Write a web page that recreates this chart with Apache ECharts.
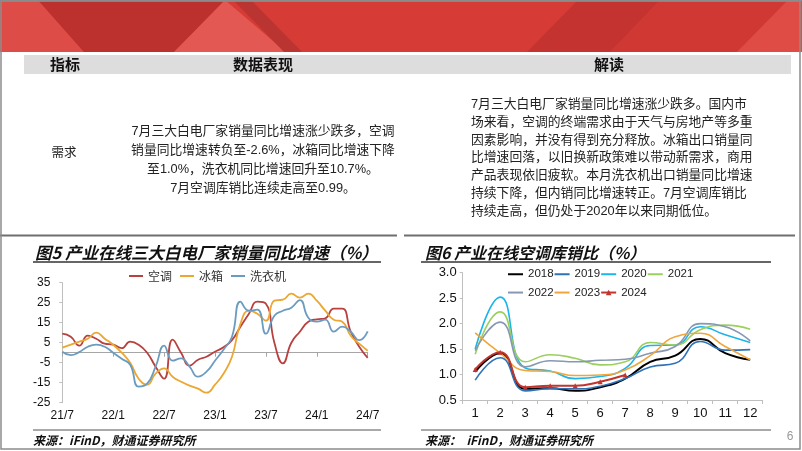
<!DOCTYPE html>
<html><head><meta charset="utf-8">
<script src="https://cdn.jsdelivr.net/npm/echarts@6/dist/echarts.min.js"></script>
<style>html,body{margin:0;padding:0;background:#fff}#c{width:802px;height:451px}</style>
</head><body><div id="c"></div>
<script>
// ---- Figure 5 data (YoY %, 21/7 .. 24/7) ----
const months = ['21/7','21/8','21/9','21/10','21/11','21/12','22/1','22/2','22/3','22/4','22/5','22/6','22/7','22/8','22/9','22/10','22/11','22/12','23/1','23/2','23/3','23/4','23/5','23/6','23/7','23/8','23/9','23/10','23/11','23/12','24/1','24/2','24/3','24/4','24/5','24/6','24/7'];
const acData     = [9.5, 8, 3.5, 8.5, 7, 4.5, 4, 2.3, 5.5, 4, 0, -7, -13, 6.5, 0, -6.5, -3.5, -2, 0.5, 2.7, 6.3, 13, 19.5, 25.5, 24.5, 5, -5.3, 5, 10.5, 15.5, 16.7, 17.2, 22, 22, 10.5, 3, -2.6];
const fridgeData = [2.5, 4, 5.5, 7, 10, 7, 4, 0, -5, -13, -16, -10.5, -7.8, -12, -14.5, -16.5, -18, -20, -16, -10.5, -2, 14.5, 21, 19.5, 16, 26, 26.5, 29.5, 27.5, 29.5, 26, 21, 16.5, 15.5, 8.5, 4.5, 1.0];
const washerData = [0.5, -1.2, 0.3, 3, 4, 3, 0, -3, -6, -17, -15.5, -7, 3.5, -4, -2.8, -7, -12, -9.5, -4, 1.5, 8, 25.5, 21, 21.5, 9.5, 18.5, 21, 22.5, 26.3, 17.5, 15.5, 16.5, 10.5, 13, 10.5, 6.3, 10.7];
const yTicks5 = [-25, -15, -5, 5, 15, 25, 35];

// ---- Figure 6 data (AC inventory/sales ratio, month 1..12) ----
const monthNo = ['1','2','3','4','5','6','7','8','9','10','11','12'];
const r2018 = [1.05, 1.42, 0.72, 0.73, 0.68, 0.75, 0.92, 1.25, 1.37, 1.70, 1.42, 1.29];
const r2019 = [0.89, 1.33, 0.68, 0.72, 0.72, 0.77, 0.92, 1.15, 1.22, 1.65, 1.48, 1.49];
const r2020 = [1.50, 2.52, 1.13, 1.07, 0.92, 0.96, 1.12, 1.57, 1.58, 1.94, 1.78, 1.63];
const r2021 = [1.40, 2.23, 1.25, 1.39, 1.32, 1.19, 1.25, 1.63, 1.58, 1.88, 1.97, 1.89];
const r2022 = [1.47, 2.03, 1.15, 1.27, 1.25, 1.28, 1.30, 1.42, 1.55, 2.00, 1.94, 1.66];
const r2023 = [1.82, 1.42, 1.08, 1.06, 0.98, 0.99, 1.09, 1.37, 1.74, 1.81, 1.55, 1.29];
const r2024 = [1.10, 1.44, 0.75, 0.78, 0.78, 0.86, 0.99];

const midLines = [
  '7月三大白电厂家销量同比增速涨少跌多，空调',
  '销量同比增速转负至-2.6%，冰箱同比增速下降',
  '至1.0%，洗衣机同比增速回升至10.7%。',
  '7月空调库销比连续走高至0.99。'
];
const rightLines = [
  '7月三大白电厂家销量同比增速涨少跌多。国内市',
  '场来看，空调的终端需求由于天气与房地产等多重',
  '因素影响，并没有得到充分释放。冰箱出口销量同',
  '比增速回落，以旧换新政策难以带动新需求，商用',
  '产品表现依旧疲软。本月洗衣机出口销量同比增速',
  '持续下降，但内销同比增速转正。7月空调库销比',
  '持续走高，但仍处于2020年以来同期低位。'
];

const FONT_TXT = '"Liberation Sans", "Noto Sans CJK SC", sans-serif';
const FONT_CJK = '"Noto Sans CJK SC", sans-serif';

function txt(x, y, s, font, align, fill) {
  return { type: 'text', silent: true, z: 10,
    style: { x: x, y: y, text: s, font: font, fill: fill || '#1a1a1a',
      textAlign: align || 'left', align: align || 'left',
      textVerticalAlign: 'middle', verticalAlign: 'middle' } };
}
function poly(pts, fill) {
  return { type: 'polygon', silent: true, z: 1, shape: { points: pts }, style: { fill: fill } };
}
function line(x1, y1, x2, y2, color, w) {
  return { type: 'line', silent: true, z: 5, shape: { x1, y1, x2, y2 }, style: { stroke: color, lineWidth: w } };
}

const graphics = [
  { type: 'rect', silent: true, z: 0, shape: { x: 0, y: 0, width: 802, height: 52 }, style: { fill: '#D63B36' } },
  poly([[0,0],[38,0],[84,52],[0,52]], '#DE4C47'),
  poly([[38,0],[225,0],[174,52],[84,52]], '#BC302D'),
  poly([[174,52],[225,0],[286,52]], '#E35852'),
  poly([[233,0],[251,0],[302,52],[284,52]], '#BA3431'),
  poly([[527,52],[578,0],[660,0],[610,52]], '#C4332F'),
  poly([[610,52],[660,0],[788,0],[737,52]], '#D03834'),
  poly([[737,52],[788,0],[802,0],[802,52]], '#DF4C46'),
  line(0, 0.8, 802, 0.8, '#8a8a8a', 1.6),
  // table header
  { type: 'rect', silent: true, z: 2, shape: { x: 24, y: 55, width: 767, height: 19 }, style: { fill: '#DDDDDD' } },
  txt(65, 64.5, '指标', 'bold 15px ' + FONT_CJK, 'center', '#111'),
  txt(263, 64.5, '数据表现', 'bold 15px ' + FONT_CJK, 'center', '#111'),
  txt(609, 64.5, '解读', 'bold 15px ' + FONT_CJK, 'center', '#111'),
  txt(64, 152, '需求', '12.5px ' + FONT_CJK, 'center', '#222'),
  // separators / chart frames
  line(0, 235.5, 397, 235.5, '#6f6f6f', 2.2),
  line(404, 235.5, 795, 235.5, '#6f6f6f', 2.2),
  line(33, 262, 381, 262, '#333', 1.4),
  line(421, 262, 771, 262, '#333', 1.4),
  line(33, 430, 381, 430, '#555', 1.2),
  line(421, 430, 771, 430, '#555', 1.2),
  txt(35, 252.5, '图5 产业在线三大白电厂家销量同比增速（%）', 'italic bold 16.5px ' + FONT_CJK, 'left', '#111'),
  txt(425, 252.5, '图6 产业在线空调库销比（%）', 'italic bold 16px ' + FONT_CJK, 'left', '#111'),
  txt(33, 440.5, '来源：iFinD，财通证券研究所', 'italic bold 12px ' + FONT_CJK, 'left', '#111'),
  txt(425, 440.5, '来源：  iFinD，财通证券研究所', 'italic bold 12px ' + FONT_CJK, 'left', '#111'),
  txt(790, 437, '6', '12px ' + FONT_TXT, 'center', '#999'),
  // page frame
  { type: 'rect', silent: true, z: 20, shape: { x: 1, y: 1, width: 799, height: 448 }, style: { fill: 'none', stroke: '#8c8c8c', lineWidth: 1.5 } }
];
midLines.forEach((s, i) => graphics.push(txt(263, 131 + i * 19, s, '12.8px ' + FONT_TXT, 'center', '#222')));
rightLines.forEach((s, i) => graphics.push(txt(471, 104.5 + i * 17.8, s, '12.8px ' + FONT_TXT, 'left', '#222')));

const axisGrey = '#BFBFBF';
function ser5(name, data, color) {
  return { name, type: 'line', xAxisIndex: 0, yAxisIndex: 0, data, smooth: 0.5, symbol: 'none',
    lineStyle: { color, width: 1.8 }, itemStyle: { color } };
}
function ser6(name, data, color, w, sym) {
  return { name, type: 'line', xAxisIndex: 2, yAxisIndex: 1, data, smooth: 0.5,
    symbol: sym || 'none', symbolSize: 5, showSymbol: !!sym,
    lineStyle: { color, width: w || 1.6 }, itemStyle: { color } };
}
const hideSym = { opacity: 0 };

const option = {
  animation: false,
  backgroundColor: '#fff',
  graphic: { elements: graphics },
  grid: [
    { left: 62.3, top: 282.7, width: 305.4, height: 120 },
    { left: 462.7, top: 272.7, width: 300, height: 127.3 }
  ],
  legend: [
    { data: ['空调', '冰箱', '洗衣机'], left: 128, top: 270, padding: 0, itemWidth: 14, itemHeight: 8, itemGap: 7,
      itemStyle: hideSym,
      textStyle: { fontSize: 12, fontFamily: FONT_CJK, color: '#333' } },
    { data: ['2018', '2019', '2020', '2021'], left: 507, top: 268.5, padding: 0, itemWidth: 15, itemHeight: 7, itemGap: 0,
      itemStyle: hideSym,
      textStyle: { fontSize: 11.5, fontFamily: FONT_TXT, color: '#222' } },
    { data: [{ name: '2022', itemStyle: hideSym }, { name: '2023', itemStyle: hideSym }, { name: '2024' }],
      left: 507, top: 286.8, padding: 0, itemWidth: 15, itemHeight: 7, itemGap: 0,
      textStyle: { fontSize: 11.5, fontFamily: FONT_TXT, color: '#222' } }
  ],
  xAxis: [
    { gridIndex: 0, type: 'category', data: months, boundaryGap: false,
      axisLine: { show: false, onZero: false }, axisTick: { show: false },
      axisLabel: { interval: 5, fontSize: 12, margin: 7, color: '#111', fontFamily: FONT_TXT } },
    { gridIndex: 0, type: 'category', data: months, boundaryGap: false, position: 'bottom',
      axisLine: { show: true, onZero: true, lineStyle: { color: '#A6A6A6', width: 1 } },
      axisTick: { show: true, interval: 5, length: 4, lineStyle: { color: '#A6A6A6' } },
      axisLabel: { show: false } },
    { gridIndex: 1, type: 'category', data: monthNo, boundaryGap: true,
      axisLine: { show: true, lineStyle: { color: axisGrey, width: 1 } },
      axisTick: { show: true, length: 4, lineStyle: { color: axisGrey } },
      axisLabel: { fontSize: 13, margin: 7, color: '#111', fontFamily: FONT_TXT } }
  ],
  yAxis: [
    { gridIndex: 0, type: 'value', min: yTicks5[0], max: yTicks5[yTicks5.length - 1], interval: 10,
      axisLine: { show: true, lineStyle: { color: axisGrey } },
      axisTick: { show: true, length: 3, lineStyle: { color: axisGrey } },
      splitLine: { show: false },
      axisLabel: { fontSize: 12, margin: 12, color: '#111', fontFamily: FONT_TXT } },
    { gridIndex: 1, type: 'value', min: 0.5, max: 3.0, interval: 0.5,
      axisLine: { show: true, lineStyle: { color: axisGrey } },
      axisTick: { show: true, length: 3, lineStyle: { color: axisGrey } },
      splitLine: { show: false },
      axisLabel: { fontSize: 13, margin: 6, color: '#111', fontFamily: FONT_TXT, formatter: v => v.toFixed(1) } }
  ],
  series: [
    ser5('空调', acData, '#B8403F'),
    ser5('冰箱', fridgeData, '#EBA731'),
    ser5('洗衣机', washerData, '#6B9CC0'),
    ser6('2018', r2018, '#000000', 2),
    ser6('2019', r2019, '#2E72B8'),
    ser6('2020', r2020, '#1DB4E8'),
    ser6('2021', r2021, '#9BCF5E'),
    ser6('2022', r2022, '#8698B2'),
    ser6('2023', r2023, '#F0A63A'),
    ser6('2024', r2024, '#C0352E', 2, 'triangle')
  ]
};
const chart = echarts.init(document.getElementById('c'));
chart.setOption(option);
</script></body></html>
